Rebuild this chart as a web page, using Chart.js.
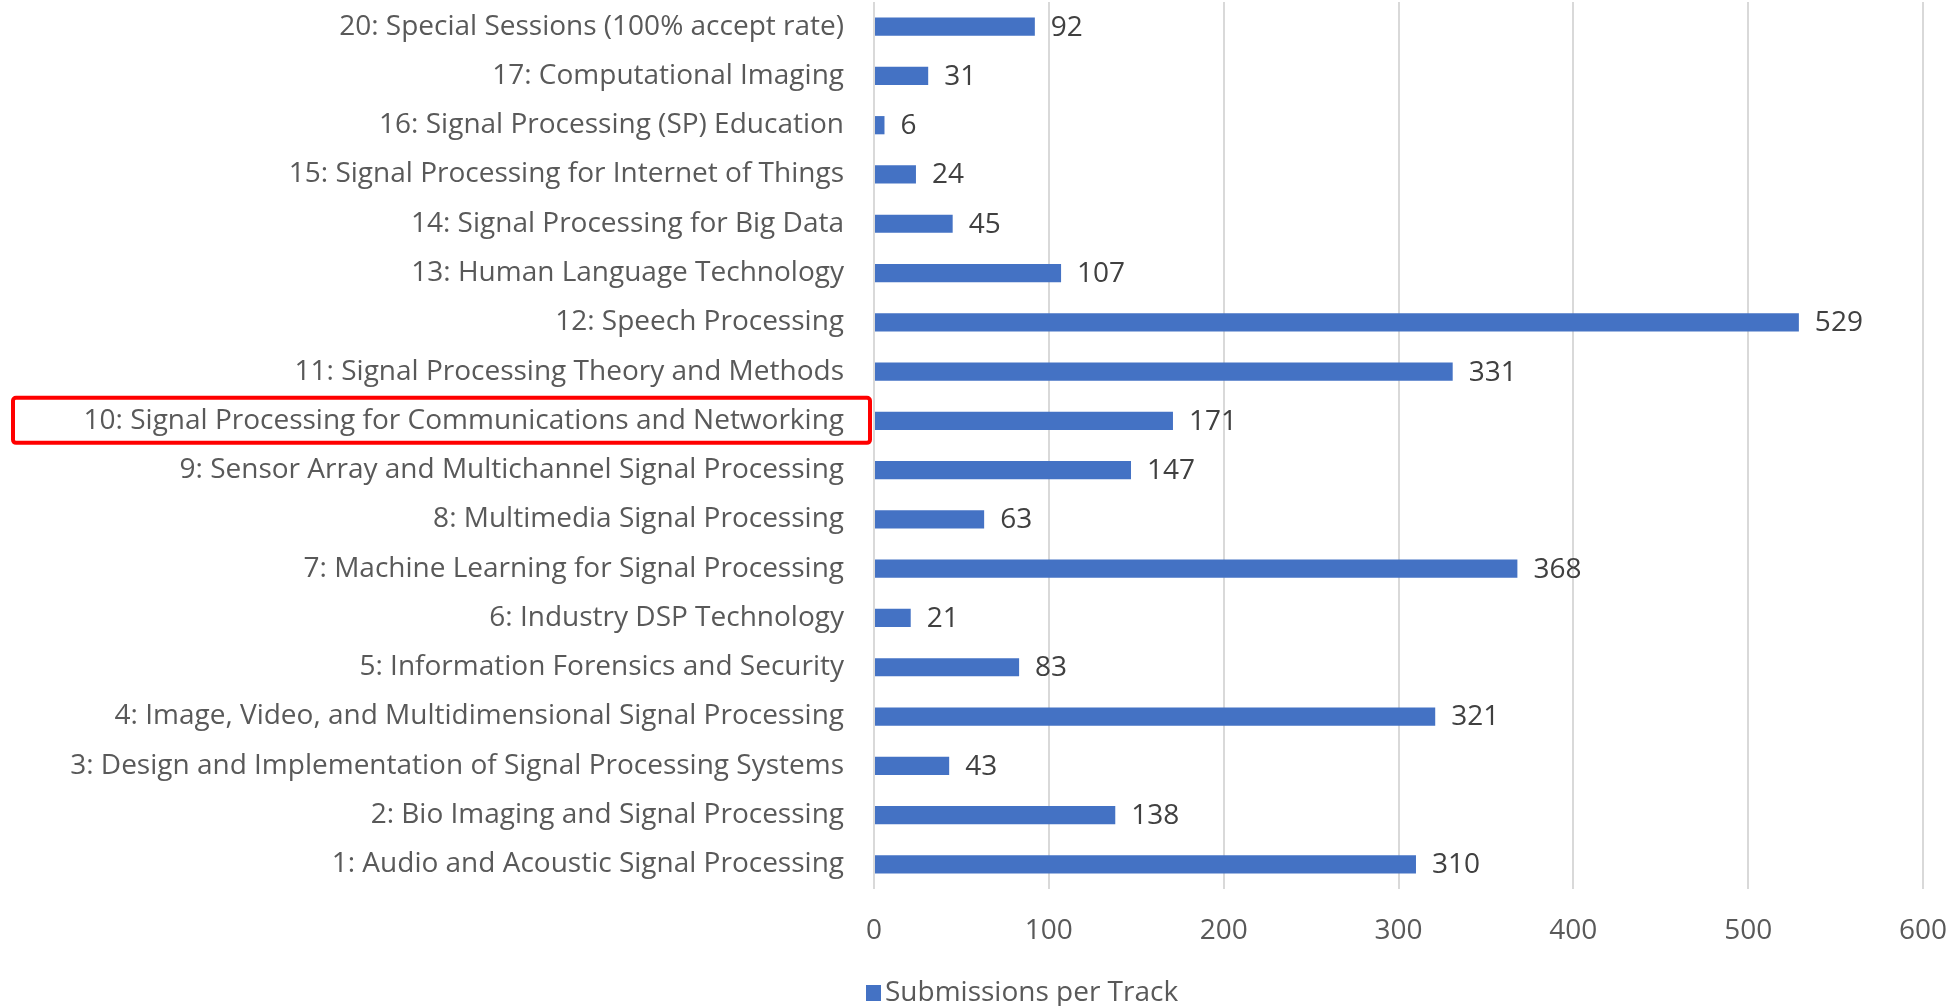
<!DOCTYPE html>
<html>
<head>
<meta charset="utf-8">
<script src="https://cdn.jsdelivr.net/npm/chart.js@4.4.1/dist/chart.umd.min.js"></script>
<style>
  html, body { margin: 0; padding: 0; background: #fff; }
  #wrap { width: 1957px; height: 1006px; }
</style>
</head>
<body>
<div id="wrap"><canvas id="barGraph"></canvas></div>
<script>
  const tracks = [
    '20: Special Sessions (100% accept rate)',
    '17: Computational Imaging',
    '16: Signal Processing (SP) Education',
    '15: Signal Processing for Internet of Things',
    '14: Signal Processing for Big Data',
    '13: Human Language Technology',
    '12: Speech Processing',
    '11: Signal Processing Theory and Methods',
    '10: Signal Processing for Communications and Networking',
    '9: Sensor Array and Multichannel Signal Processing',
    '8: Multimedia Signal Processing',
    '7: Machine Learning for Signal Processing',
    '6: Industry DSP Technology',
    '5: Information Forensics and Security',
    '4: Image, Video, and Multidimensional Signal Processing',
    '3: Design and Implementation of Signal Processing Systems',
    '2: Bio Imaging and Signal Processing',
    '1: Audio and Acoustic Signal Processing',
  ];

  const submissions = [92, 31, 6, 24, 45, 107, 529, 331, 171, 147, 63, 368, 21, 83, 321, 43, 138, 310];

  const highlighted = '10: Signal Processing for Communications and Networking';

  const FONT = '"Open Sans", sans-serif';
  const FONT_SIZE = 28;

  // value labels at the end of each bar, the red box and the legend
  const extras = {
    id: 'extras',
    afterDatasetsDraw(chart) {
      const ctx = chart.ctx;
      const meta = chart.getDatasetMeta(0);
      ctx.save();
      ctx.font = FONT_SIZE + 'px ' + FONT;
      ctx.fillStyle = '#404040';
      ctx.textBaseline = 'middle';
      ctx.textAlign = 'left';
      meta.data.forEach((bar, i) => {
        ctx.fillText(String(submissions[i]), bar.x + 16, bar.y + 1);
      });

      // red box round the highlighted label
      const y = chart.scales.y.getPixelForValue(tracks.indexOf(highlighted));
      ctx.strokeStyle = '#FF0000';
      ctx.lineWidth = 4;
      ctx.beginPath();
      ctx.roundRect(13, y - 23, 857, 45, 3);
      ctx.stroke();

      // legend
      const ds = chart.data.datasets[0];
      ctx.fillStyle = ds.backgroundColor;
      ctx.fillRect(866, 985, 15, 16);
      ctx.fillStyle = '#595959';
      ctx.fillText(ds.label, 885, 993);
      ctx.restore();
    }
  };

  const data = {
    labels: tracks,
    datasets: [{
      label: 'Submissions per Track',
      data: submissions,
      backgroundColor: '#4472C4',
      borderColor: '#4472C4',
      barPercentage: 0.37,
      categoryPercentage: 1.0,
    }]
  };

  const config = {
    type: 'bar',
    data,
    plugins: [extras],
    options: {
      indexAxis: 'y',
      responsive: true,
      maintainAspectRatio: false,
      animation: false,
      layout: { padding: { left: 0, right: 34, top: 2, bottom: 0 } },
      plugins: {
        legend: { display: false },
        tooltip: { enabled: false },
      },
      scales: {
        x: {
          min: 0,
          max: 600,
          ticks: {
            stepSize: 100,
            color: '#595959',
            font: { family: FONT, size: FONT_SIZE },
            padding: 25,
          },
          grid: { color: '#D9D9D9', lineWidth: 2, drawTicks: false },
          border: { display: false },
          afterFit(scale) {
            scale.height = 117;
            scale.paddingLeft = 0;
            scale.paddingRight = 0;
          },
        },
        y: {
          ticks: {
            color: '#595959',
            font: { family: FONT, size: FONT_SIZE },
            padding: 30,
          },
          grid: { display: false, drawTicks: false },
          border: { display: false },
          afterFit(scale) {
            scale.width = 874;
            scale.paddingTop = 0;
            scale.paddingBottom = 0;
          },
        }
      }
    }
  };

  const myChart = new Chart(document.getElementById('barGraph'), config);
</script>
</body>
</html>
